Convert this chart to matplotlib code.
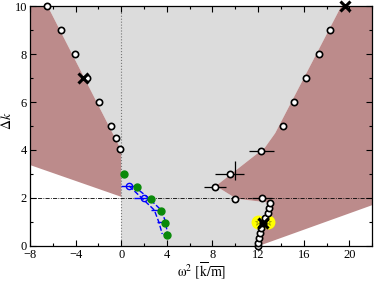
import numpy as np
import matplotlib

matplotlib.use('Agg')
import matplotlib.pyplot as plt
from matplotlib.ticker import MultipleLocator

plt.rcParams['font.family'] = ['Liberation Serif', 'DejaVu Serif']
plt.rcParams['mathtext.fontset'] = 'stix'

# shaded region boundaries
left_brown_x = [-8, -6.45, 0.0, 0.0, -8]
left_brown_y = [10, 10, 4.0, 2.05, 3.375]
chain_x = [11.96, 11.96, 12.05, 12.13, 12.25, 12.44, 12.6, 12.83, 12.97, 13.09]
chain_y = [0.0, 0.14, 0.34, 0.55, 0.76, 0.97, 1.18, 1.39, 1.6, 1.8]
ridge_x = [10.1, 8.3, 12.6, 13.5, 19.3]
ridge_y = [1.97, 2.5, 4.1, 4.7, 10.0]
right_edge_x = [22, 22, 12.05]
right_edge_y = [10, 1.7, 0.0]

# open circle series
open_x = [-6.49, -5.29, -4.07, -3.0, -1.95, -0.93, -0.47, -0.12,
          18.33, 17.36, 16.2, 15.12, 14.19]
open_y = [10, 9, 8, 7, 6, 5, 4.49, 4.05, 9, 8, 7, 6, 5]

# points with error bars
err_x = [12.3, 9.51, 8.23, 12.36, 9.95]
err_y = [3.97, 3.0, 2.47, 1.99, 3.15]
err_dx = [1.1, 1.3, 1.0, 0.9, 0.0]
err_dy = [0.0, 0.0, 0.0, 0.0, 0.4]
single_x = [9.95]
single_y = [1.95]

green_x = [0.23, 1.40, 2.65, 3.52, 3.87, 4.02]
green_y = [2.99, 2.47, 1.97, 1.47, 0.97, 0.47]

blue_x = [0.7, 2.0, 3.1, 3.5, 3.8]
blue_y = [2.5, 2.0, 1.5, 1.0, 0.5]
blue_dx = [0.7, 0.85, 0.5, 0.35, 0.15]
blue_lo = [0.7, 1.8, 2.9, 3.3, 3.6]
blue_hi = [1.1, 2.4, 3.5, 3.9, 4.05]

cross_x = [-3.35, 19.63, 12.44]
cross_y = [7.0, 10.0, 0.97]
yellow_x = [12.0, 12.9]
yellow_y = [0.98, 0.98]

brown = '#bc8b8b'
gray = '#dcdcdc'

fig = plt.figure(figsize=(3.74, 2.81), dpi=100)
ax = fig.add_axes([0.080, 0.1246, 0.915, 0.854])

# gray middle region
gx = [-6.45, 0.0, 0.0] + chain_x + ridge_x
gy = [10, 4.0, 0.0] + chain_y + ridge_y
ax.fill(gx, gy, color=gray, lw=0, zorder=0)
ax.fill(left_brown_x, left_brown_y, color=brown, lw=0, zorder=0)
rx = right_edge_x + chain_x + ridge_x
ry = right_edge_y + chain_y + ridge_y
ax.fill(rx, ry, color=brown, lw=0, zorder=0)

ax.axvline(0, color='#777777', ls=':', lw=0.8, zorder=1)
ax.axhline(2, color='black', lw=0.6, dashes=(5, 1.5, 1, 1.5), zorder=1)

# blue branch
ax.plot(blue_lo, blue_y, color='blue', ls='--', lw=1.0, zorder=2)
ax.plot(blue_hi, blue_y, color='blue', ls='--', lw=1.0, zorder=2)
ax.errorbar(blue_x, blue_y, xerr=blue_dx, fmt='none', ecolor='blue',
            elinewidth=1.0, capsize=0, zorder=2)
ax.plot(blue_x[:2], blue_y[:2], 'o', ms=4.5, mfc='none', mec='blue', mew=1.0, zorder=3)
ax.plot(green_x, green_y, 'o', ms=5, color='#0a8a0a', zorder=4)

# error bar points
ax.errorbar(err_x, err_y, xerr=err_dx, yerr=err_dy, fmt='none', ecolor='black',
            elinewidth=0.9, capsize=0, zorder=3)
ax.plot(err_x[:4] + single_x, err_y[:4] + single_y, 'o', ms=4.5, mfc='white',
        mec='black', mew=1.2, zorder=4)

ax.plot(yellow_x, yellow_y, 'o', ms=10, color='yellow', mew=0, zorder=4)
ax.plot(yellow_x, yellow_y, '*', ms=5, mfc='none', mec='#999900', mew=0.5, zorder=4)
ax.plot(chain_x, chain_y, 'o', ms=4.5, mfc='white', mec='black', mew=1.2,
        zorder=5, clip_on=False)
ax.plot(open_x, open_y, 'o', ms=4.5, mfc='white', mec='black', mew=1.2,
        zorder=5, clip_on=False)
ax.plot(cross_x, cross_y, 'x', ms=7, color='black', mew=2.2, zorder=6, clip_on=False)

ax.set_xlim(-8, 22)
ax.set_ylim(0, 10)
ax.xaxis.set_major_locator(MultipleLocator(4))
ax.xaxis.set_minor_locator(MultipleLocator(2))
ax.yaxis.set_major_locator(MultipleLocator(2))
ax.yaxis.set_minor_locator(MultipleLocator(1))
ax.tick_params(which='both', direction='in', top=True, right=True,
               labelsize=9, width=0.8, pad=2)
ax.tick_params(which='major', length=4)
ax.tick_params(which='minor', length=2)
for s in ax.spines.values():
    s.set_linewidth(0.9)

ax.set_xlabel(r'$\mathrm{\omega}^2\ [\overline{\mathrm{k}}/\overline{\mathrm{m}}]$', fontsize=10)
ax.set_ylabel(r'$\Delta k$', fontsize=10)
ax.xaxis.set_label_coords(0.503, -0.06)
ax.yaxis.set_label_coords(-0.046, 0.52)

fig.savefig('out.png', dpi=100)
